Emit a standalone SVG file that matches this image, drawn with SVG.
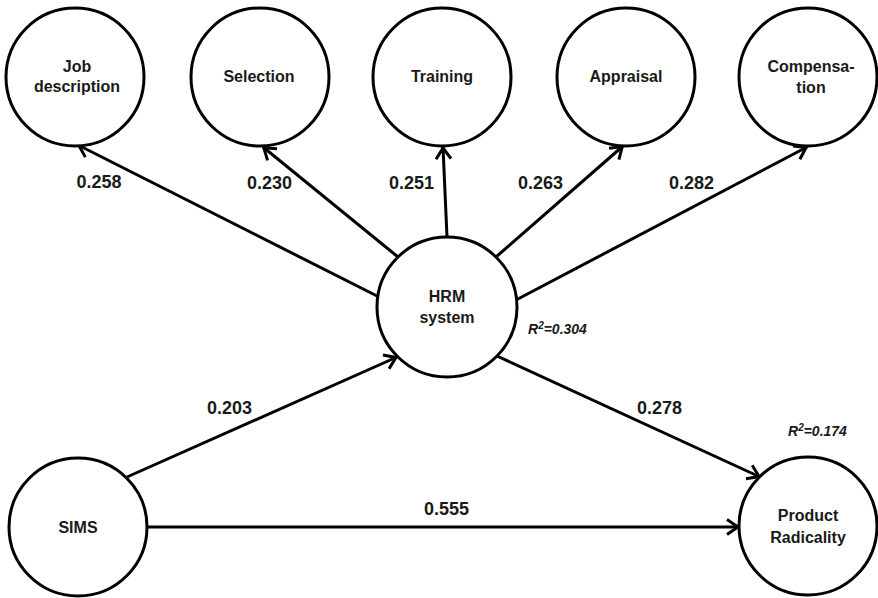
<svg xmlns="http://www.w3.org/2000/svg" width="878" height="598" viewBox="0 0 878 598">
<style>
.node{fill:#fff;stroke:#000;stroke-width:3}
.lbl{font-family:"Liberation Sans",Arial,sans-serif;font-weight:bold;font-size:16px;text-anchor:middle;fill:#1a1a1a}
.num{font-family:"Liberation Sans",Arial,sans-serif;font-weight:bold;font-size:18px;text-anchor:middle;fill:#1a1a1a}
.r2{font-family:"Liberation Sans",Arial,sans-serif;font-weight:bold;font-style:italic;font-size:14px;fill:#1a1a1a}
.edge{stroke:#000;stroke-width:3;fill:none;marker-end:url(#arr)}
</style>
<defs>
<marker id="arr" markerUnits="userSpaceOnUse" viewBox="-16 -10 18 20" markerWidth="18" markerHeight="20" refX="0" refY="0" orient="auto">
<path d="M-12,-7.5 L-1,0 L-12,7.5" fill="none" stroke="#000" stroke-width="3" stroke-linejoin="miter"/>
</marker>
</defs>
<rect width="878" height="598" fill="#fff"/>
<g id="connectors">
<line class="edge" x1="379" y1="297" x2="78" y2="145"/>
<line class="edge" x1="398" y1="257" x2="263" y2="147"/>
<line class="edge" x1="447" y1="237" x2="443" y2="147"/>
<line class="edge" x1="496" y1="257" x2="623" y2="146"/>
<line class="edge" x1="516" y1="300" x2="807" y2="147"/>
<line class="edge" x1="497" y1="356" x2="760" y2="477"/>
<line class="edge" x1="127" y1="477" x2="397" y2="357"/>
<line class="edge" x1="148" y1="527" x2="739" y2="527"/>
</g>
<g id="job">
<circle class="node" cx="75" cy="77" r="69"/>
<text class="lbl" x="77" y="72">Job</text>
<text class="lbl" x="77" y="92">description</text>
</g>
<g id="selection">
<circle class="node" cx="260" cy="77" r="69"/>
<text class="lbl" x="259" y="82">Selection</text>
</g>
<g id="training">
<circle class="node" cx="442" cy="77" r="69"/>
<text class="lbl" x="442" y="82">Training</text>
</g>
<g id="appraisal">
<circle class="node" cx="626" cy="77" r="69"/>
<text class="lbl" x="626" y="82">Appraisal</text>
</g>
<g id="compensation">
<circle class="node" cx="808" cy="77" r="69"/>
<text class="lbl" x="811" y="72">Compensa-</text>
<text class="lbl" x="811" y="93">tion</text>
</g>
<g id="hrm">
<circle class="node" cx="447" cy="307" r="70"/>
<text class="lbl" x="447" y="302">HRM</text>
<text class="lbl" x="447" y="323">system</text>
</g>
<g id="sims">
<circle class="node" cx="78" cy="527" r="69"/>
<text class="lbl" x="78" y="533">SIMS</text>
</g>
<g id="product">
<circle class="node" cx="808" cy="526" r="69"/>
<text class="lbl" x="808" y="521">Product</text>
<text class="lbl" x="808" y="543">Radicality</text>
</g>
<g id="labels">
<text class="num" x="99" y="188">0.258</text>
<text class="num" x="269.5" y="189">0.230</text>
<text class="num" x="411.5" y="189">0.251</text>
<text class="num" x="540.5" y="189">0.263</text>
<text class="num" x="691.5" y="189">0.282</text>
<text class="num" x="229.5" y="414">0.203</text>
<text class="num" x="659.5" y="414">0.278</text>
<text class="num" x="446.5" y="515">0.555</text>
<text class="r2" x="528" y="334">R<tspan font-size="10" dy="-5">2</tspan><tspan dy="5">=0.304</tspan></text>
<text class="r2" x="788" y="436">R<tspan font-size="10" dy="-5">2</tspan><tspan dy="5">=0.174</tspan></text>
</g>
</svg>
